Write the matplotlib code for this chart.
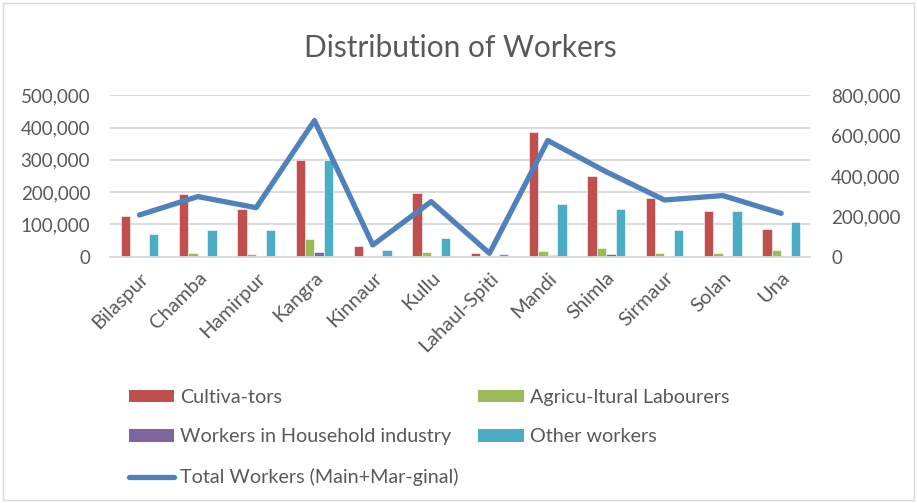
import numpy as np
import matplotlib
matplotlib.use("Agg")
import matplotlib.pyplot as plt
from matplotlib.patches import Rectangle, Patch
from matplotlib.lines import Line2D
from matplotlib.ticker import FuncFormatter

plt.rcParams['font.family'] = ['Lato', 'DejaVu Sans']

districts = ['Bilaspur', 'Chamba', 'Hamirpur', 'Kangra', 'Kinnaur', 'Kullu',
             'Lahaul-Spiti', 'Mandi', 'Shimla', 'Sirmaur', 'Solan', 'Una']
cultivators = [127000, 195000, 147000, 301000, 33000, 196000,
               11000, 386000, 249000, 182000, 141000, 85000]
agri_labourers = [1500, 10000, 8000, 55000, 1000, 13500,
                  500, 16500, 26000, 10500, 10000, 20000]
household_ind = [1200, 2500, 1800, 15500, 500, 2000,
                 300, 6000, 7000, 2000, 2500, 1000]
other_workers = [71000, 83000, 82000, 299000, 20500, 57000,
                 8000, 162000, 147000, 82000, 141500, 106500]
total_workers = [207000, 298000, 243000, 675000, 58000, 273000,
                 17000, 576000, 421000, 281000, 303000, 215000]

bar_series = [
    ('Cultiva-tors', cultivators, '#C0504D'),
    ('Agricu-ltural Labourers', agri_labourers, '#9BBB59'),
    ('Workers in Household industry', household_ind, '#8064A2'),
    ('Other workers', other_workers, '#4BACC6'),
]
line_color = '#4F81BD'
txt = '#595959'
grid = '#D9D9D9'

W, H = 917, 503
fig = plt.figure(figsize=(W / 100, H / 100), dpi=100)
fig.patches.append(Rectangle((3 / W, 3 / H), 1 - 6 / W, 1 - 6 / H, transform=fig.transFigure,
                             fill=False, edgecolor=grid, linewidth=1.0))

ax = fig.add_axes([110.3 / W, (H - 256.7) / H, 700 / W, 161.4 / H])
x = np.arange(len(districts))
bw = 0.161
for i, (name, vals, col) in enumerate(bar_series):
    ax.bar(x + (i - 1.5) * bw, vals, width=bw, color=col, edgecolor='white',
           linewidth=0.4, zorder=2)

ax.set_xlim(-0.5, len(districts) - 0.5)
ax.set_ylim(0, 500000)
ax.set_yticks(np.arange(0, 500001, 100000))
ax.yaxis.set_major_formatter(FuncFormatter(lambda v, p: f'{int(v):,}'))
ax.grid(axis='y', color=grid, linewidth=1.3, zorder=0)
ax.set_axisbelow(True)
for s in ['top', 'left', 'right']:
    ax.spines[s].set_visible(False)
ax.spines['bottom'].set_color(grid)
ax.spines['bottom'].set_linewidth(1.3)
ax.tick_params(axis='y', length=0, pad=14.5, labelsize=13.5, labelcolor=txt)
ax.tick_params(axis='x', length=0, pad=9, labelsize=14.5, labelcolor=txt)
ax.set_xticks(x)
ax.set_xticklabels(districts, rotation=45, ha='right', rotation_mode='anchor')

ax2 = ax.twinx()
ax2.plot(x, total_workers, color=line_color, linewidth=3.8,
         solid_capstyle='round', solid_joinstyle='round', zorder=3)
ax2.set_ylim(0, 800000)
ax2.set_yticks(np.arange(0, 800001, 200000))
ax2.yaxis.set_major_formatter(FuncFormatter(lambda v, p: f'{int(v):,}'))
ax2.tick_params(axis='y', length=0, pad=15, labelsize=13.5, labelcolor=txt)
for s in ax2.spines.values():
    s.set_visible(False)

fig.text(460 / W, 1 - 48 / H, 'Distribution of Workers', ha='center', va='center',
         fontsize=21.5, color=txt)

handles = [
    Patch(facecolor=bar_series[0][2], label=bar_series[0][0]),
    Patch(facecolor=bar_series[2][2], label=bar_series[2][0]),
    Line2D([0], [0], color=line_color, linewidth=3.8, solid_capstyle='round',
           label='Total Workers (Main+Mar-ginal)'),
    Patch(facecolor=bar_series[1][2], label=bar_series[1][0]),
    Patch(facecolor=bar_series[3][2], label=bar_series[3][0]),
]
fig.legend(handles=handles, ncol=2, loc='upper left',
           bbox_to_anchor=(111 / W, 1 - 371 / H), frameon=False,
           fontsize=14.2, labelcolor=txt, handlelength=2.3, handleheight=0.6,
           handletextpad=0.3, columnspacing=1.0, labelspacing=1.15)

fig.savefig('out.png', dpi=100)
